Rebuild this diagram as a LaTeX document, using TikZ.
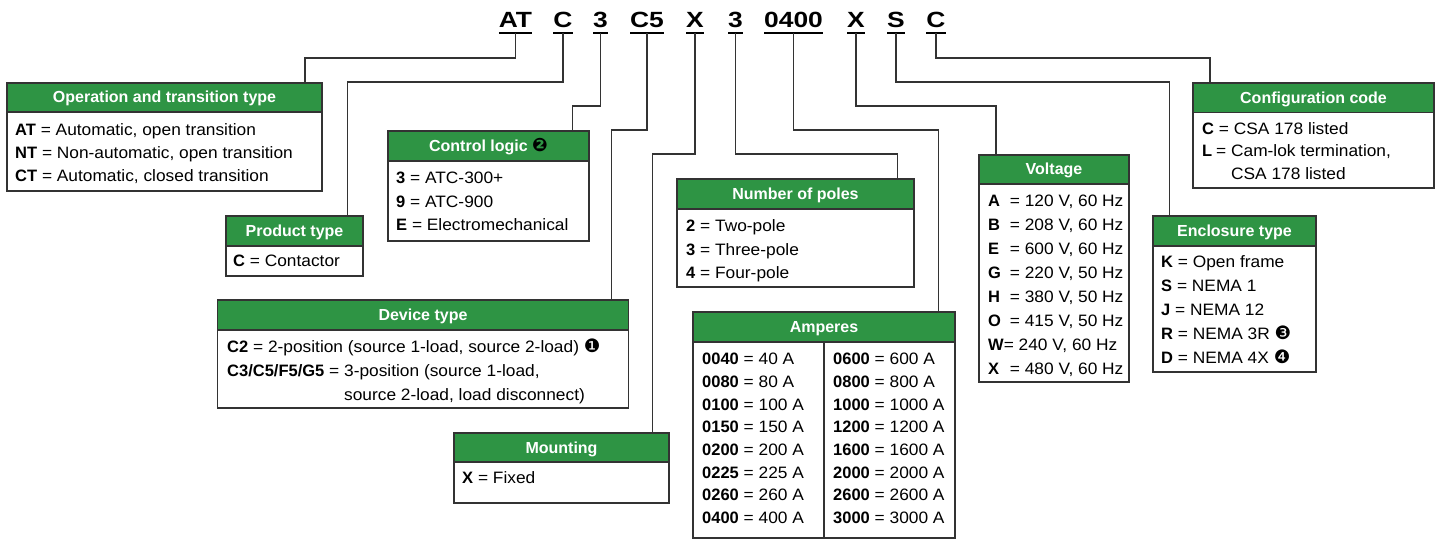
\documentclass[tikz,border=0pt]{standalone}
\usepackage{fontspec}
\setmainfont{Liberation Sans}[UprightFeatures={FakeStretch=1.05}]
\newfontfamily\codefont{Liberation Sans}[FakeStretch=1.2]
\newfontfamily\dingfont{DejaVu Sans}
\definecolor{hgreen}{HTML}{2E9444}
\definecolor{linec}{HTML}{333333}

% circled footnote markers
\newcommand\mk[1]{{\dingfont\fontsize{18.5}{18.5}\selectfont#1}}
% first-line strut so text nodes share a common top offset
\newcommand\fl{\rule{0pt}{16pt}}
% key = value entry
\newcommand\kv[2]{\textbf{#1} = #2}
% voltage entry with aligned equals sign
\newcommand\vv[2]{\makebox[21.7pt][l]{\textbf{#1}}= #2}
% body line spacing
\newcommand\bt[1]{\fontsize{16.5}{#1}\selectfont}

% #1 name, #2 left, #3 top, #4 right, #5 header bottom, #6 bottom, #7 title
\newcommand\keybox[7]{%
  \node[hdr, minimum width={#4-#2}, minimum height={#5-#3}, anchor=north west] (#1H) at (#2,#3) {#7};
  \node[bodybox, minimum width={#4-#2}, minimum height={#6-#5}, anchor=north west] (#1B) at (#1H.south west) {};
}

\begin{document}
\begin{tikzpicture}[x=1pt,y=-1pt,
  wire/.style={draw=linec, line width=1.4pt},
  hdr/.style={draw=linec, fill=hgreen, line width=1.2pt, text=white,
    font=\bfseries\fontsize{16}{16}\selectfont, inner sep=0pt, outer sep=0pt,
    text height=11pt, text depth=0pt},
  bodybox/.style={draw=linec, fill=white, line width=1.2pt, inner sep=0pt, outer sep=0pt},
  bodytxt/.style={inner sep=0pt, anchor=north west, align=left},
  code/.style={inner sep=0pt, outer sep=0pt, anchor=base,
    font=\codefont\bfseries\fontsize{22}{22}\selectfont,
    text height=15pt, text depth=5pt},
  uline/.style={draw=black, line width=2pt}]

\useasboundingbox (0,0) rectangle (1439,540);

% ---------- catalog number ----------
\node[code] (cAT) at (515.5,28) {AT};
\node[code] (cC)  at (563,28)   {C};
\node[code] (cL)  at (600.5,28) {3};
\node[code] (cD)  at (647,28)   {C5};
\node[code] (cM)  at (695,28)   {X};
\node[code] (cP)  at (735.5,28) {3};
\node[code] (cA)  at (793.5,28) {0400};
\node[code] (cV)  at (856,28)   {X};
\node[code] (cE)  at (896,28)   {S};
\node[code] (cG)  at (936,28)   {C};
\foreach \n in {cAT,cC,cL,cD,cM,cP,cA,cV,cE,cG}
  \draw[uline] (\n.south west) -- (\n.south east);

% ---------- boxes ----------
\keybox{op}{7}{83}{322}{112}{191}{Operation and transition type}
\node[bodytxt, font=\bt{23}] (opT) at (15,118.9)
  {\fl\kv{AT}{Automatic, open transition}\\\kv{NT}{Non-automatic, open transition}\\\kv{CT}{Automatic, closed transition}};

\keybox{pt}{226}{216}{363}{246}{276}{Product type}
\node[bodytxt, font=\bt{23}] (ptT) at (233,250.4) {\fl\kv{C}{Contactor}};

\keybox{cl}{388}{131}{589}{161}{241}{Control logic {\color{black}\mk{❷}}}
\node[bodytxt, font=\bt{23.6}] (clT) at (396,167.4)
  {\fl\kv{3}{ATC-300+}\\\kv{9}{ATC-900}\\\kv{E}{Electromechanical}};

\keybox{dt}{217.7}{300}{628.3}{330}{408}{Device type}
\node[bodytxt, font=\bt{24}] (dtT) at (227,335.9)
  {\fl\kv{C2}{2-position (source 1-load, source 2-load) \mk{❶}}\\
   \kv{C3/C5/F5/G5}{3-position (source 1-load,}\\
   \hphantom{\textbf{C3/C5/F5/G5} = }source 2-load, load disconnect)};

\keybox{mt}{454}{433}{669}{462}{503}{Mounting}
\node[bodytxt, font=\bt{23}] (mtT) at (462,466.9) {\fl\kv{X}{Fixed}};

\keybox{np}{677}{179}{914}{209}{287}{Number of poles}
\node[bodytxt, font=\bt{23.5}] (npT) at (686,215.4)
  {\fl\kv{2}{Two-pole}\\\kv{3}{Three-pole}\\\kv{4}{Four-pole}};

\keybox{am}{693}{312}{955}{342}{538}{Amperes}
\draw[draw=linec, line width=1.2pt] (824,342) -- (824,538);
\node[bodytxt, font=\bt{22.7}] (amL) at (702,348.4)
  {\fl\kv{0040}{40 A}\\\kv{0080}{80 A}\\\kv{0100}{100 A}\\\kv{0150}{150 A}\\
   \kv{0200}{200 A}\\\kv{0225}{225 A}\\\kv{0260}{260 A}\\\kv{0400}{400 A}};
\node[bodytxt, font=\bt{22.7}] (amR) at (833,348.4)
  {\fl\kv{0600}{600 A}\\\kv{0800}{800 A}\\\kv{1000}{1000 A}\\\kv{1200}{1200 A}\\
   \kv{1600}{1600 A}\\\kv{2000}{2000 A}\\\kv{2600}{2600 A}\\\kv{3000}{3000 A}};

\keybox{vo}{979}{155}{1129}{184}{382}{Voltage}
\node[bodytxt, font=\bt{24}] (voT) at (988,190.7)
  {\fl\vv{A}{120 V, 60 Hz}\\\vv{B}{208 V, 60 Hz}\\\vv{E}{600 V, 60 Hz}\\
   \vv{G}{220 V, 50 Hz}\\\vv{H}{380 V, 50 Hz}\\\vv{O}{415 V, 50 Hz}\\
   \textbf{W}= 240 V, 60 Hz\\\vv{X}{480 V, 60 Hz}};

\keybox{en}{1153}{216}{1316}{246}{372}{Enclosure type}
\node[bodytxt, font=\bt{23.8}] (enT) at (1161,251.6)
  {\fl\kv{K}{Open frame}\\\kv{S}{NEMA 1}\\\kv{J}{NEMA 12}\\
   \kv{R}{NEMA 3R \mk{❸}}\\\kv{D}{NEMA 4X \mk{❹}}};

\keybox{cf}{1193}{83}{1434}{112.7}{188}{Configuration code}
\node[bodytxt, font=\bt{22.3}] (cfT) at (1202,118.4)
  {\fl\kv{C}{CSA 178 listed}\\
   \makebox[14pt][l]{\textbf{L}}= Cam-lok termination,\\
   \hphantom{\makebox[14pt][l]{\textbf{L}}= }CSA 178 listed};

% ---------- entry points on the box tops ----------
\coordinate (opIn) at (305,83);
\coordinate (ptIn) at (347.5,216);
\coordinate (clIn) at (572.7,131);
\coordinate (dtIn) at (611.7,300);
\coordinate (mtIn) at (652.7,433);
\coordinate (npIn) at (897.7,179);
\coordinate (amIn) at (938.7,312);
\coordinate (voIn) at (996,155);
\coordinate (enIn) at (1169.3,216);
\coordinate (cfIn) at (1210,83);

% ---------- connectors ----------
\draw[wire] (cAT.south) -- ++(0,25)  -| (opIn);
\draw[wire] (cC.south)  -- ++(0,49)  -| (ptIn);
\draw[wire] (cL.south)  -- ++(0,73)  -| (clIn);
\draw[wire] (cD.south)  -- ++(0,97)  -| (dtIn);
\draw[wire] (cM.south)  -- ++(0,121) -| (mtIn);
\draw[wire] (cP.south)  -- ++(0,121) -| (npIn);
\draw[wire] (cA.south)  -- ++(0,97)  -| (amIn);
\draw[wire] (cV.south)  -- ++(0,73)  -| (voIn);
\draw[wire] (cE.south)  -- ++(0,49)  -| (enIn);
\draw[wire] (cG.south)  -- ++(0,25)  -| (cfIn);
\end{tikzpicture}
\end{document}
